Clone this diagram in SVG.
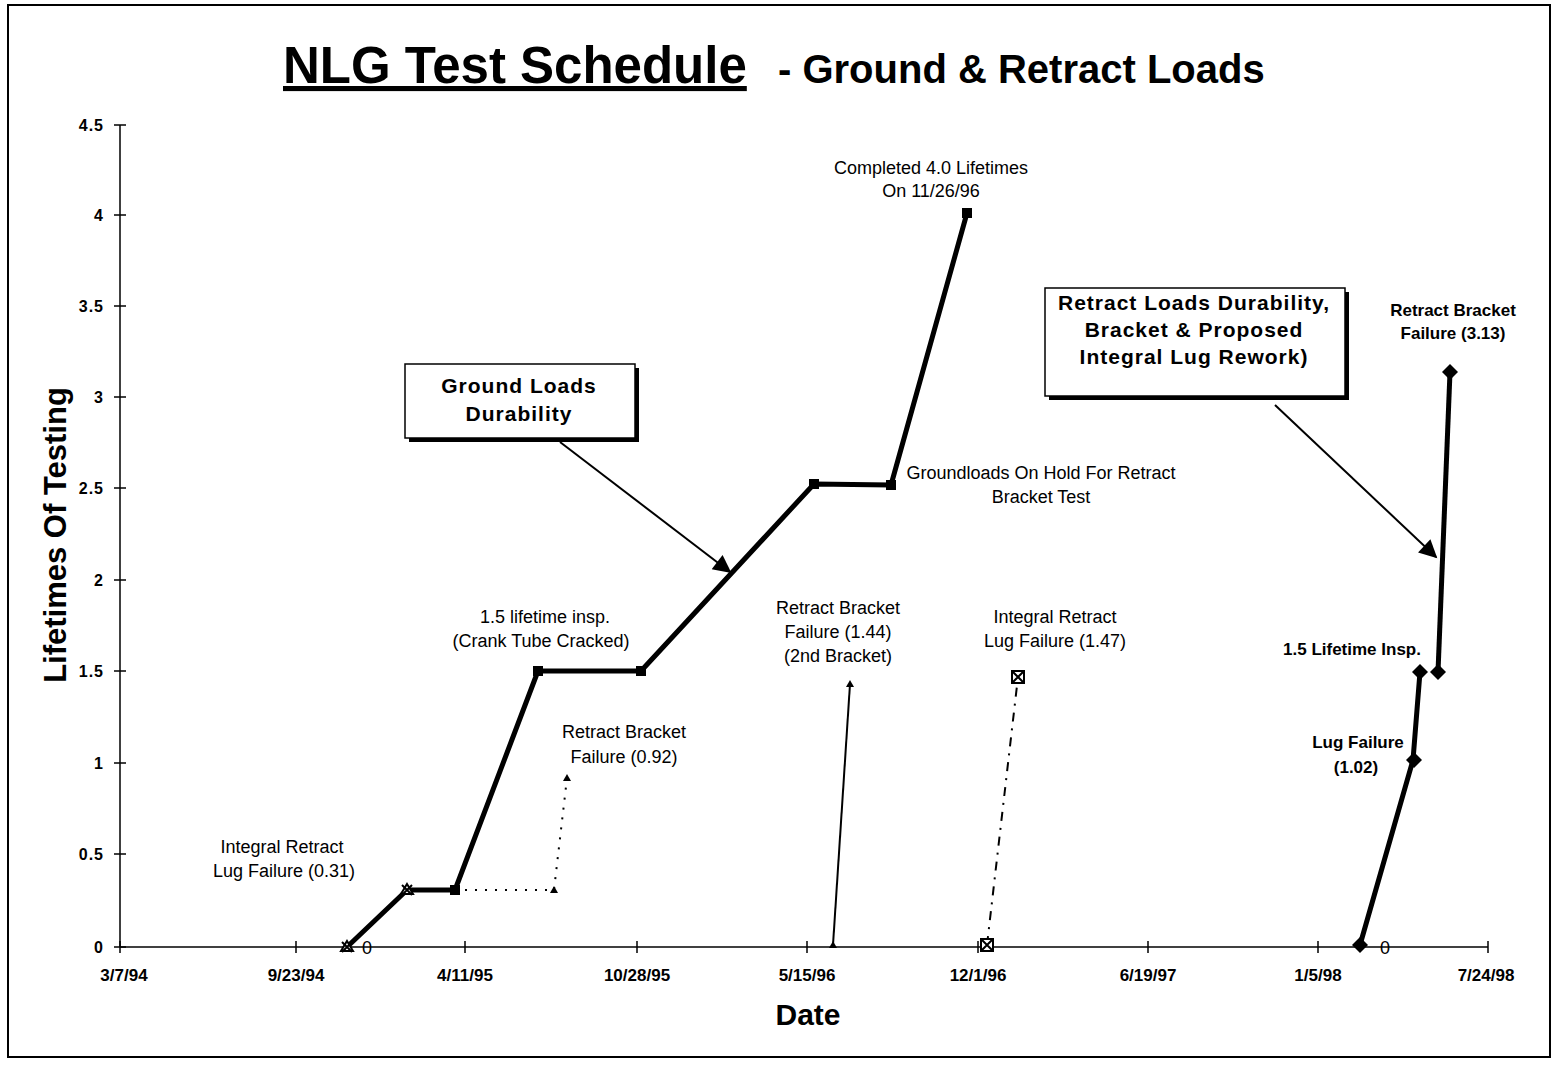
<svg xmlns="http://www.w3.org/2000/svg" width="1554" height="1065" viewBox="0 0 1554 1065">
<defs>
<style>
.t{font-family:"Liberation Sans",Arial,sans-serif;fill:#000}
.lbl{font-size:18px;text-anchor:middle}
.lblb{font-size:17px;font-weight:bold;text-anchor:middle}
.tick{font-size:17px;font-weight:bold;text-anchor:middle}
.ytick{font-size:16px;font-weight:bold;text-anchor:end;letter-spacing:1px}
.box{fill:#fff;stroke:#000;stroke-width:1.5}
.bt{font-size:21px;font-weight:bold;text-anchor:middle;letter-spacing:1px}
.shadow{fill:#000}
.thick{fill:none;stroke:#000;stroke-width:5;stroke-linejoin:round}
.axis{fill:none;stroke:#000;stroke-width:1.5}
</style>
<marker id="ahb" viewBox="0 0 10 10" refX="9" refY="5" markerWidth="22" markerHeight="18" markerUnits="userSpaceOnUse" orient="auto">
<path d="M0,0 L10,5 L0,10 z" fill="#000"/>
</marker>
</defs>
<rect x="0" y="0" width="1554" height="1065" fill="#fff"/>
<rect x="8" y="5" width="1542" height="1052" fill="none" stroke="#000" stroke-width="2"/>

<g id="title">
<text class="t" x="283" y="83" font-size="51" font-weight="bold" text-decoration="underline">NLG Test Schedule</text>
<text class="t" x="778" y="83" font-size="40" font-weight="bold">- Ground &amp; Retract Loads</text>
</g>

<g id="axes">
<line class="axis" x1="120" y1="125" x2="120" y2="947"/>
<line class="axis" x1="120" y1="947" x2="1488" y2="947"/>
<g stroke="#000" stroke-width="1.5">
<line x1="114" y1="125" x2="126" y2="125"/>
<line x1="114" y1="215" x2="126" y2="215"/>
<line x1="114" y1="306" x2="126" y2="306"/>
<line x1="114" y1="397" x2="126" y2="397"/>
<line x1="114" y1="488" x2="126" y2="488"/>
<line x1="114" y1="580" x2="126" y2="580"/>
<line x1="114" y1="671" x2="126" y2="671"/>
<line x1="114" y1="763" x2="126" y2="763"/>
<line x1="114" y1="854" x2="126" y2="854"/>
<line x1="114" y1="947" x2="126" y2="947"/>
<line x1="120" y1="941" x2="120" y2="953"/>
<line x1="296" y1="941" x2="296" y2="953"/>
<line x1="465" y1="941" x2="465" y2="953"/>
<line x1="637" y1="941" x2="637" y2="953"/>
<line x1="807" y1="941" x2="807" y2="953"/>
<line x1="978" y1="941" x2="978" y2="953"/>
<line x1="1148" y1="941" x2="1148" y2="953"/>
<line x1="1318" y1="941" x2="1318" y2="953"/>
<line x1="1488" y1="941" x2="1488" y2="953"/>
</g>
<text class="t ytick" x="104" y="131">4.5</text>
<text class="t ytick" x="104" y="221">4</text>
<text class="t ytick" x="104" y="312">3.5</text>
<text class="t ytick" x="104" y="403">3</text>
<text class="t ytick" x="104" y="494">2.5</text>
<text class="t ytick" x="104" y="586">2</text>
<text class="t ytick" x="104" y="677">1.5</text>
<text class="t ytick" x="104" y="769">1</text>
<text class="t ytick" x="104" y="860">0.5</text>
<text class="t ytick" x="104" y="953">0</text>
<text class="t tick" x="124" y="981">3/7/94</text>
<text class="t tick" x="296" y="981">9/23/94</text>
<text class="t tick" x="465" y="981">4/11/95</text>
<text class="t tick" x="637" y="981">10/28/95</text>
<text class="t tick" x="807" y="981">5/15/96</text>
<text class="t tick" x="978" y="981">12/1/96</text>
<text class="t tick" x="1148" y="981">6/19/97</text>
<text class="t tick" x="1318" y="981">1/5/98</text>
<text class="t tick" x="1486" y="981">7/24/98</text>
<text class="t" x="808" y="1025" font-size="30" font-weight="bold" text-anchor="middle">Date</text>
<text class="t" transform="translate(66,535) rotate(-90)" font-size="31" font-weight="bold" text-anchor="middle">Lifetimes Of Testing</text>
<text class="t" x="367" y="954" font-size="18" text-anchor="middle">0</text>
<text class="t" x="1385" y="954" font-size="18" text-anchor="middle">0</text>
</g>

<g id="connectors">
<polyline class="thick" points="347,947 407,890 455,890 538,671 641,671 814,484 891,485 967,213"/>
<polyline fill="none" stroke="#000" stroke-width="2" stroke-dasharray="2,8" points="455,890 554,890 567,778"/>
<line x1="833" y1="945" x2="850" y2="684" stroke="#000" stroke-width="2"/>
<line x1="987" y1="945" x2="1018" y2="677" stroke="#000" stroke-width="2" stroke-dasharray="9,7,2,7"/>
<polyline class="thick" points="1360,945 1413,760 1420,672"/>
<line class="thick" x1="1438" y1="672" x2="1450" y2="372"/>
<line x1="560" y1="442" x2="730" y2="572" stroke="#000" stroke-width="2" marker-end="url(#ahb)"/>
<line x1="1275" y1="405" x2="1436" y2="557" stroke="#000" stroke-width="2" marker-end="url(#ahb)"/>
</g>

<g id="markers">
<g fill="#000">
<rect x="450" y="885" width="10" height="10"/>
<rect x="533" y="666" width="10" height="10"/>
<rect x="636" y="666" width="10" height="10"/>
<rect x="809" y="479" width="10" height="10"/>
<rect x="886" y="480" width="10" height="10"/>
<rect x="962" y="208" width="10" height="10"/>
<path d="M554,886 L558,893 L550,893 z"/>
<path d="M567,774 L571,781 L563,781 z"/>
<path d="M833,941 L837,948 L829,948 z"/>
<path d="M850,680 L854,687 L846,687 z"/>
<path d="M1360,937 L1368,945 L1360,953 L1352,945 z"/>
<path d="M1414,752 L1422,760 L1414,768 L1406,760 z"/>
<path d="M1420,664 L1428,672 L1420,680 L1412,672 z"/>
<path d="M1438,664 L1446,672 L1438,680 L1430,672 z"/>
<path d="M1450,364 L1458,372 L1450,380 L1442,372 z"/>
</g>
<g fill="#fff" stroke="#000" stroke-width="2">
<path d="M347,941 L353,951 L341,951 z"/>
<path d="M407,884 L413,894 L401,894 z"/>
<rect x="1012" y="671" width="12" height="12"/>
<rect x="981" y="939" width="12" height="12"/>
</g>
<g stroke="#000" stroke-width="2">
<path d="M1012,671 L1024,683 M1024,671 L1012,683"/>
<path d="M981,939 L993,951 M993,939 L981,951"/>
<path d="M342,942 L352,952 M352,942 L342,952"/>
<path d="M402,885 L412,895 M412,885 L402,895"/>
</g>
</g>

<g id="node-ground">
<rect class="shadow" x="409" y="368" width="230" height="74"/>
<rect class="box" x="405" y="364" width="230" height="74"/>
<text class="t bt" x="519" y="393">Ground Loads</text>
<text class="t bt" x="519" y="421">Durability</text>
</g>

<g id="node-retract">
<rect class="shadow" x="1049" y="292" width="300" height="108"/>
<rect class="box" x="1045" y="288" width="300" height="108"/>
<text class="t bt" x="1194" y="310">Retract Loads Durability,</text>
<text class="t bt" x="1194" y="337">Bracket &amp;  Proposed</text>
<text class="t bt" x="1194" y="364">Integral Lug Rework)</text>
</g>

<g id="labels">
<text class="t lbl" x="931" y="174">Completed 4.0 Lifetimes</text>
<text class="t lbl" x="931" y="197">On 11/26/96</text>
<text class="t lbl" x="1041" y="479">Groundloads On Hold For Retract</text>
<text class="t lbl" x="1041" y="503">Bracket Test</text>
<text class="t lbl" x="545" y="623">1.5 lifetime insp.</text>
<text class="t lbl" x="541" y="647">(Crank Tube Cracked)</text>
<text class="t lbl" x="624" y="738">Retract Bracket</text>
<text class="t lbl" x="624" y="763">Failure (0.92)</text>
<text class="t lbl" x="282" y="853">Integral Retract</text>
<text class="t lbl" x="284" y="877">Lug Failure (0.31)</text>
<text class="t lbl" x="838" y="614">Retract Bracket</text>
<text class="t lbl" x="838" y="638">Failure (1.44)</text>
<text class="t lbl" x="838" y="662">(2nd Bracket)</text>
<text class="t lbl" x="1055" y="623">Integral Retract</text>
<text class="t lbl" x="1055" y="647">Lug Failure (1.47)</text>
<text class="t lblb" x="1453" y="316">Retract Bracket</text>
<text class="t lblb" x="1453" y="339">Failure (3.13)</text>
<text class="t lblb" x="1352" y="655">1.5 Lifetime Insp.</text>
<text class="t lblb" x="1358" y="748">Lug Failure</text>
<text class="t lblb" x="1356" y="773">(1.02)</text>
</g>
</svg>
